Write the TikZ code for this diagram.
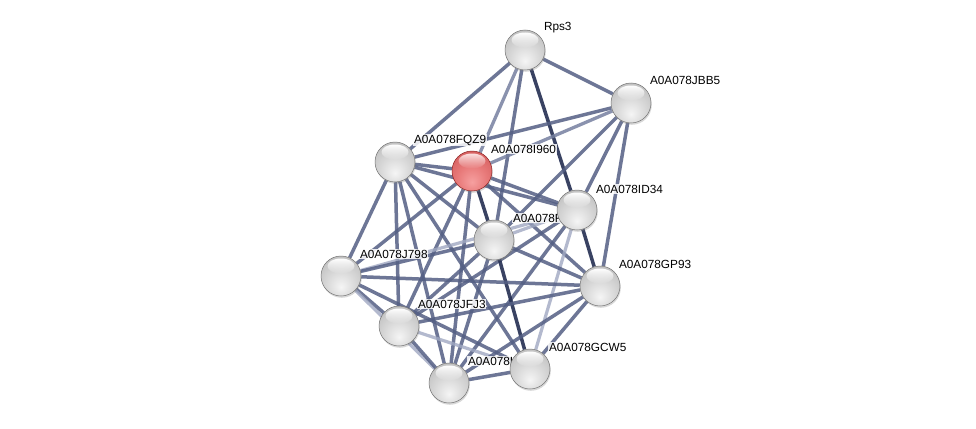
\documentclass[tikz,border=0pt]{standalone}
\usepackage{fontspec}
\setmainfont{Liberation Sans}
\usetikzlibrary{shadows,fadings}
\definecolor{ecol}{RGB}{84,95,132}
\definecolor{edark}{RGB}{36,46,82}
\definecolor{elight}{RGB}{160,168,194}
\definecolor{emid}{RGB}{118,128,160}
\definecolor{gb0}{RGB}{245,245,245}
\definecolor{gb1}{RGB}{216,216,216}
\definecolor{gb2}{RGB}{180,180,180}
\definecolor{gb3}{RGB}{138,138,138}
\definecolor{rb0}{RGB}{246,160,160}
\definecolor{rb1}{RGB}{232,122,122}
\definecolor{rb2}{RGB}{205,84,84}
\definecolor{rb3}{RGB}{160,38,38}
\definecolor{rborder}{RGB}{140,34,34}
\definecolor{gborder}{RGB}{115,115,115}
\pgfdeclareradialshading{greyball}{\pgfpoint{0bp}{-14bp}}{color(0bp)=(gb0); color(18bp)=(gb1); color(42bp)=(gb2); color(60bp)=(gb3); color(80bp)=(gb3)}
\pgfdeclareradialshading{redball}{\pgfpoint{0bp}{-14bp}}{color(0bp)=(rb0); color(18bp)=(rb1); color(42bp)=(rb2); color(60bp)=(rb3); color(80bp)=(rb3)}
\tikzfading[name=hlfade, top color=transparent!0, bottom color=transparent!100]
\pgfdeclarelayer{bgl}
\pgfdeclarelayer{edges}
\pgfdeclarelayer{labels}
\pgfsetlayers{bgl,edges,labels,main}
\begin{document}
\begin{tikzpicture}[x=1pt,y=-1pt,
  ball/.style={circle, minimum size=40pt, inner sep=0pt, shading=greyball, draw=gborder, line width=0.5pt,
    drop shadow={opacity=0.3, shadow xshift=0.8pt, shadow yshift=-1.8pt}},
  redb/.style={ball, shading=redball, draw=rborder},
  e/.style={draw=ecol, line width=3.5pt, draw opacity=0.85},
  ed/.style={draw=edark, line width=3.5pt, draw opacity=0.9},
  el/.style={draw=elight, line width=3.2pt, draw opacity=0.8},
  em/.style={draw=emid, line width=3.3pt, draw opacity=0.85},
  hl/.style={white, path fading=hlfade},
  lbl/.style={font=\fontsize{11.8}{14}\selectfont, anchor=west, inner sep=0.8pt, fill=white, fill opacity=0.85, text opacity=1}]
\begin{pgfonlayer}{bgl}
\fill[white] (0,0) rectangle (976,428);
\end{pgfonlayer}
\useasboundingbox (0,0) rectangle (976,428);
% nodes
\node[ball] (R) at (525,50) {};
\node[ball] (B) at (631,103) {};
\node[ball] (Q) at (395,162) {};
\node[redb] (I) at (472,171) {};
\node[ball] (D) at (577,210) {};
\node[ball] (F) at (494,240) {};
\node[ball] (J) at (341,276) {};
\node[ball] (G) at (600,286) {};
\node[ball] (T) at (399,326) {};
\node[ball] (W) at (530,369) {};
\node[ball] (L) at (449,383) {};
% highlights
\foreach \n in {R,B,Q,D,F,J,G,T,W,L}
  \fill[hl] ([yshift=10pt]\n.center) ellipse [x radius=13.5pt, y radius=7.5pt];
\fill[hl, white!70!rb0] ([yshift=10pt]I.center) ellipse [x radius=13.5pt, y radius=7.5pt];
% edges
\begin{pgfonlayer}{edges}
\draw[e] (R) -- (Q);
\draw[em] (R) -- (I);
\draw[e] (R) -- (F);
\draw[ed] (R) -- (D);
\draw[e] (R) -- (B);
\draw[e] (B) -- (Q);
\draw[em] (B) -- (I);
\draw[e] (B) -- (F);
\draw[e] (B) -- (D);
\draw[e] (B) -- (G);
\draw[e] (Q) -- (I);
\draw[e] (Q) -- (D);
\draw[e] (Q) -- (F);
\draw[e] (Q) -- (J);
\draw[e] (Q) -- (T);
\draw[e] (Q) -- (L);
\draw[e] (Q) -- (W);
\draw[e] (I) -- (D);
\draw[e] (I) -- (J);
\draw[e] (I) -- (T);
\draw[e] (I) -- (L);
\draw[ed] (I) -- (F);
\draw[e] (I) -- (G);
\draw[el] (D) -- (F);
\draw[ed] (D) -- (G);
\draw[el] (D) -- (W);
\draw[el] (D) -- (J);
\draw[e] (D) -- (T);
\draw[e] (D) -- (L);
\draw[e] (F) -- (J);
\draw[e] (F) -- (T);
\draw[e] (F) -- (L);
\draw[ed] (F) -- (W);
\draw[e] (F) -- (G);
\draw[e] (J) -- (T);
\draw[el] (J) -- (L);
\draw[e] (J) -- (G);
\draw[e] (J) -- (W);
\draw[e] (T) -- (L);
\draw[e] (T) -- (G);
\draw[el] (T) -- (W);
\draw[e] (L) -- (W);
\draw[e] (L) -- (G);
\draw[e] (W) -- (G);
\end{pgfonlayer}
% labels
\begin{pgfonlayer}{labels}
\node[lbl] (lR) at ([shift={(18pt,22pt)}]R.center) {Rps3};
\node[lbl] (lB) at ([shift={(18pt,23pt)}]B.center) {A0A078JBB5};
\node[lbl] (lQ) at ([shift={(18pt,22pt)}]Q.center) {A0A078FQZ9};
\node[lbl] (lI) at ([shift={(18pt,22pt)}]I.center) {A0A078I960};
\node[lbl] (lD) at ([shift={(18pt,21pt)}]D.center) {A0A078ID34};
\node[lbl] (lF) at ([shift={(18pt,22pt)}]F.center) {A0A078F};
\node[lbl] (lJ) at ([shift={(18pt,22pt)}]J.center) {A0A078J798};
\node[lbl] (lG) at ([shift={(18pt,22pt)}]G.center) {A0A078GP93};
\node[lbl] (lT) at ([shift={(18pt,22pt)}]T.center) {A0A078JFJ3};
\node[lbl] (lW) at ([shift={(18pt,22pt)}]W.center) {A0A078GCW5};
\node[lbl] (lL) at ([shift={(18pt,22pt)}]L.center) {A0A078I};
\end{pgfonlayer}
\end{tikzpicture}
\end{document}
